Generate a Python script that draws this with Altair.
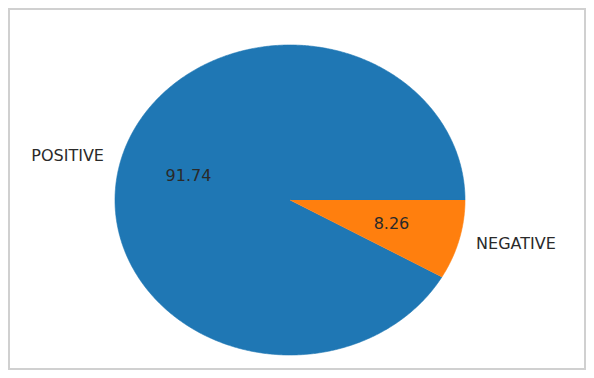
import math
import altair as alt
import pandas as pd

# ---- data ----
labels = ["POSITIVE", "NEGATIVE"]
values = [91.74, 8.26]
pct_text = ["91.74", "8.26"]
colors = ["#1f77b4", "#ff7f0e"]

# ---- build slice outlines (matplotlib style: start at 0 deg, counter-clockwise) ----
total = sum(values)
rows = []
lab_rows = []
start = 0.0
for lab, val, pt in zip(labels, values, pct_text):
    sweep = 360.0 * val / total
    end = start + sweep
    rows.append({"label": lab, "k": 0, "x": 0.0, "y": 0.0})
    n = max(4, int(sweep * 2))
    for i in range(n + 1):
        a = math.radians(start + sweep * i / n)
        rows.append({"label": lab, "k": i + 1, "x": math.cos(a), "y": math.sin(a)})
    mid = math.radians(start + sweep / 2)
    lx, ly = 1.1 * math.cos(mid), 1.1 * math.sin(mid)
    lab_rows.append({"text": lab, "x": lx, "y": ly,
                     "side": "left" if lx < 0 else "right"})
    lab_rows.append({"text": pt, "x": 0.6 * math.cos(mid), "y": 0.6 * math.sin(mid),
                     "side": "center"})
    start = end

poly = pd.DataFrame(rows)
labs = pd.DataFrame(lab_rows)

W, H = 350, 310
PAD = {"left": 107, "top": 37, "right": 121, "bottom": 15}

xs = alt.Scale(domain=[-1, 1], nice=False, zero=False)
ys = alt.Scale(domain=[-1, 1], nice=False, zero=False)

pie = alt.Chart(poly).mark_line(filled=True, strokeWidth=0.6, interpolate="linear").encode(
    x=alt.X("x:Q", scale=xs, axis=None),
    y=alt.Y("y:Q", scale=ys, axis=None),
    color=alt.Color("label:N", scale=alt.Scale(domain=labels, range=colors), legend=None),
    stroke=alt.Stroke("label:N", scale=alt.Scale(domain=labels, range=colors), legend=None),
    detail="label:N",
    order=alt.Order("k:Q"),
)

def text_layer(side, align):
    return alt.Chart(labs).transform_filter(alt.datum.side == side).mark_text(
        align=align, baseline="middle", font="DejaVu Sans", fontSize=16, color="#2a2a2a"
    ).encode(
        x=alt.X("x:Q", scale=xs, axis=None),
        y=alt.Y("y:Q", scale=ys, axis=None),
        text="text:N",
    )

frame = alt.Chart(pd.DataFrame({"a": [0]})).mark_rect(
    filled=False, stroke="#d0d0d0", strokeWidth=2
).encode(
    x=alt.value(-PAD["left"] + 1),
    x2=alt.value(W + PAD["right"] - 1),
    y=alt.value(-PAD["top"] + 1),
    y2=alt.value(H + PAD["bottom"] - 1),
)

chart = alt.layer(
    frame,
    pie,
    text_layer("left", "right"),
    text_layer("right", "left"),
    text_layer("center", "center"),
).properties(
    width=W, height=H,
    autosize=alt.AutoSizeParams(type="none"),
    padding=PAD,
    background="white",
).configure_view(stroke=None)

chart.save("out.html", embed_options={"renderer": "svg", "actions": False})
